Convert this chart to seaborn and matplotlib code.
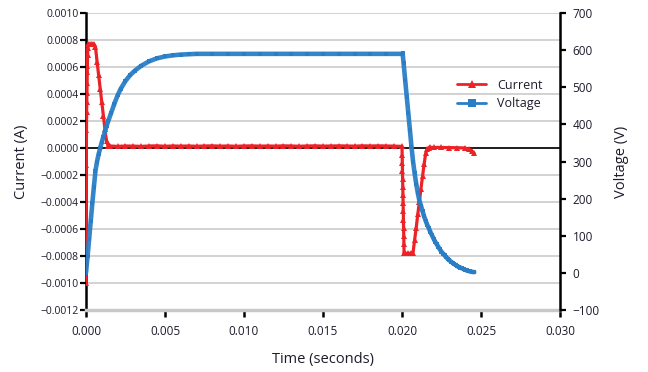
import pandas as pd
import numpy as np
import matplotlib.pyplot as plt
import matplotlib.ticker as mticker
from matplotlib.lines import Line2D
import seaborn as sns

# Current trace (A)
current_time = [0.0, 0.00001, 0.00002, 0.00003, 0.00004, 0.00005, 0.00006, 0.00007, 0.00008, 0.00009, 0.00010,
                0.00012, 0.00015, 0.0002, 0.0003, 0.0004, 0.0005, 0.0006,
                0.0007, 0.0008, 0.0009, 0.0010, 0.0011, 0.0012, 0.0013, 0.0014,
                0.0015, 0.0020, 0.0025, 0.0030, 0.0035, 0.0040, 0.0045, 0.0050, 0.0055, 0.0060,
                0.0065, 0.0070, 0.0075, 0.0080, 0.0085, 0.0090, 0.0095, 0.0100, 0.0105, 0.0110,
                0.0115, 0.0120, 0.0125, 0.0130, 0.0135, 0.0140, 0.0145, 0.0150, 0.0155, 0.0160,
                0.0165, 0.0170, 0.0175, 0.0180, 0.0185, 0.0190, 0.0195, 0.02000,
                0.02001, 0.02002, 0.02003, 0.02004, 0.02005, 0.02006, 0.02007, 0.02008, 0.02009,
                0.02010, 0.02011, 0.02012, 0.02013,
                0.0202, 0.0204, 0.0206, 0.0207,
                0.0208, 0.0209, 0.0210, 0.0211, 0.0212, 0.0213, 0.0214, 0.0215, 0.0216, 0.0217, 0.0218,
                0.0220, 0.0225, 0.0230, 0.0235, 0.0240, 0.02425, 0.0244, 0.02457]
current_amp = [-0.00100, -0.00059, -0.000126, 0.000133, 0.000267, 0.00034, 0.00041, 0.00048, 0.00056, 0.00061, 0.00069,
               0.00074, 0.00077, 0.00077, 0.00077, 0.000772, 0.00077, 0.00075,
               0.00064, 0.00054, 0.00044, 0.00034, 0.00024, 0.00014, 0.00005, 0.000018,
               0.000015, 0.000012, 0.000015, 0.000014, 0.000012, 0.000015, 0.000016, 0.000013, 0.000015, 0.000014,
               0.000015, 0.000013, 0.000015, 0.000016, 0.000014, 0.000015, 0.000013, 0.000015, 0.000016, 0.000014,
               0.000015, 0.000014, 0.000016, 0.000015, 0.000013, 0.000015, 0.000016, 0.000014, 0.000015, 0.000016,
               0.000015, 0.000014, 0.000016, 0.000015, 0.000016, 0.000015, 0.000014, 0.000012,
               -0.00005, -0.00011, -0.00017, -0.00023, -0.00029, -0.00035, -0.00041, -0.00047, -0.00053,
               -0.00059, -0.00065, -0.00071, -0.00078,
               -0.00078, -0.00078, -0.00078, -0.000775,
               -0.00068, -0.00059, -0.00049, -0.00040, -0.00030, -0.00021, -0.00012, -0.00004, -0.000008, 0.000002, 0.000005,
               0.000004, 0.000004, 0.000003, 0.000002, 0.0, -0.00001, -0.00002, -0.00004]

# Voltage trace (V)
voltage_time = [0.0, 0.0001, 0.0002, 0.0003, 0.0004, 0.0005, 0.0006, 0.0007, 0.0008, 0.0009,
                0.0010, 0.0011, 0.0012, 0.0013, 0.0014, 0.0016, 0.0018, 0.0020, 0.0022, 0.0025,
                0.0028, 0.0031, 0.0035, 0.0040, 0.0045, 0.0050, 0.0055, 0.0060, 0.0065, 0.0070,
                0.0080, 0.0090, 0.0100, 0.0110, 0.0120, 0.0130, 0.0140, 0.0150, 0.0160, 0.0170,
                0.0180, 0.0190, 0.0200, 0.02004,
                0.0201, 0.0202, 0.0203, 0.0204, 0.0205, 0.0206, 0.0207, 0.0208, 0.0209, 0.0210,
                0.0211, 0.0212, 0.0213, 0.0214, 0.0215, 0.0216, 0.0217, 0.0218, 0.0219, 0.0220,
                0.0221, 0.0222, 0.0223, 0.0224, 0.0225, 0.0226, 0.0227, 0.0228, 0.0229, 0.0230,
                0.0231, 0.0232, 0.0233, 0.0234, 0.0235, 0.0236, 0.0237, 0.0238, 0.0239, 0.0240,
                0.0241, 0.0242, 0.0243, 0.0244, 0.02457]
voltage_volt = [0, 45, 92, 140, 187, 232, 275, 300, 320, 336,
                352, 367, 381, 395, 408, 432, 456, 478, 496, 517,
                533, 545, 558, 570, 578, 583, 586, 588, 589, 590,
                590, 590, 590, 590, 590, 590, 590, 590, 590, 590,
                590, 590, 590, 591,
                565, 520, 475, 430, 385, 340, 300, 268, 240, 215,
                195, 181, 166, 152, 140, 129, 120, 110, 101, 92,
                84, 77, 70, 63, 57, 52, 47, 42, 38, 34,
                30, 27, 24, 21, 18, 16, 14, 12, 10, 8,
                7, 5, 4, 3, 2]

current_ticks = [-0.0012, -0.0010, -0.0008, -0.0006, -0.0004, -0.0002, 0.0, 0.0002, 0.0004, 0.0006, 0.0008, 0.0010]
voltage_ticks = [-100, 0, 100, 200, 300, 400, 500, 600, 700]
time_ticks = [0.000, 0.005, 0.010, 0.015, 0.020, 0.025, 0.030]

red = '#ec2227'
blue = '#2a7ec6'
ink = '#1c1c2c'

sns.set_style('white')
plt.rcParams['font.family'] = ['Open Sans', 'DejaVu Sans']

cur_df = pd.DataFrame({'t': current_time, 'I': current_amp})
vol_df = pd.DataFrame({'t': voltage_time, 'V': voltage_volt})

fig, ax = plt.subplots(figsize=(6.48, 3.72), dpi=100)
fig.subplots_adjust(left=0.1327, right=0.8642, top=0.965, bottom=0.1667)
ax2 = ax.twinx()

ax.set_ylim(-0.0012, 0.0010)
ax2.set_ylim(-100, 700)
ax.set_xlim(0, 0.030)

# grid + zero line
for v in current_ticks[1:]:
    ax.axhline(v, color='#cfcfcf', lw=1.3, zorder=0)
ax.axhline(0, color='black', lw=1.2, zorder=1)

sns.lineplot(data=cur_df, x='t', y='I', ax=ax, color=red, lw=2.3, marker='^', markersize=4,
             markeredgewidth=0, sort=False, zorder=3)
sns.lineplot(data=vol_df, x='t', y='V', ax=ax2, color=blue, lw=3.3, marker='s', markersize=3,
             markeredgewidth=0, sort=False, alpha=0.95, zorder=3)

minus = lambda fmt: mticker.FuncFormatter(lambda v, p: (fmt % v).replace('-', '\u2212'))
ax.set_yticks(current_ticks)
ax.yaxis.set_major_formatter(minus('%.4f'))
ax2.set_yticks(voltage_ticks)
ax2.yaxis.set_major_formatter(minus('%d'))
ax.set_xticks(time_ticks)
ax.xaxis.set_major_formatter(mticker.FormatStrFormatter('%.3f'))

for a in (ax, ax2):
    for s in a.spines.values():
        s.set_visible(False)
ax.spines['left'].set_visible(True)
ax.spines['left'].set_color('black')
ax.spines['left'].set_linewidth(1.8)
ax2.spines['right'].set_visible(True)
ax2.spines['right'].set_color('black')
ax2.spines['right'].set_linewidth(1.8)
ax.spines['bottom'].set_visible(True)
ax.spines['bottom'].set_color('#c8c8c8')
ax.spines['bottom'].set_linewidth(2.5)

ax.tick_params(axis='y', direction='out', length=4, width=1.6, color='black', labelsize=7.5,
               labelcolor=ink, pad=1.5, left=True)
ax2.tick_params(axis='y', direction='out', length=4, width=1.6, color='black', labelsize=8.5,
                labelcolor=ink, pad=5, right=True)
ax.tick_params(axis='x', direction='out', length=5, width=1.8, color='black', labelsize=8.5,
               labelcolor=ink, pad=6, bottom=True)

ax.set_xlabel('Time (seconds)', fontsize=10.5, color=ink, labelpad=10)
ax.set_ylabel('Current (A)', fontsize=10.5, color=ink, labelpad=8)
ax2.set_ylabel('Voltage (V)', fontsize=10.5, color=ink, labelpad=10)

handles = [Line2D([], [], color=red, lw=2, marker='^', markersize=6, markeredgewidth=0),
           Line2D([], [], color=blue, lw=2, marker='s', markersize=5.5, markeredgewidth=0)]
leg = ax.legend(handles, ['Current', 'Voltage'], loc='center left', bbox_to_anchor=(0.76, 0.726),
                frameon=False, fontsize=9, handlelength=2.3, handletextpad=0.9, labelspacing=0.45,
                numpoints=1)
for t in leg.get_texts():
    t.set_color(ink)

plt.savefig('out.png', dpi=100)
